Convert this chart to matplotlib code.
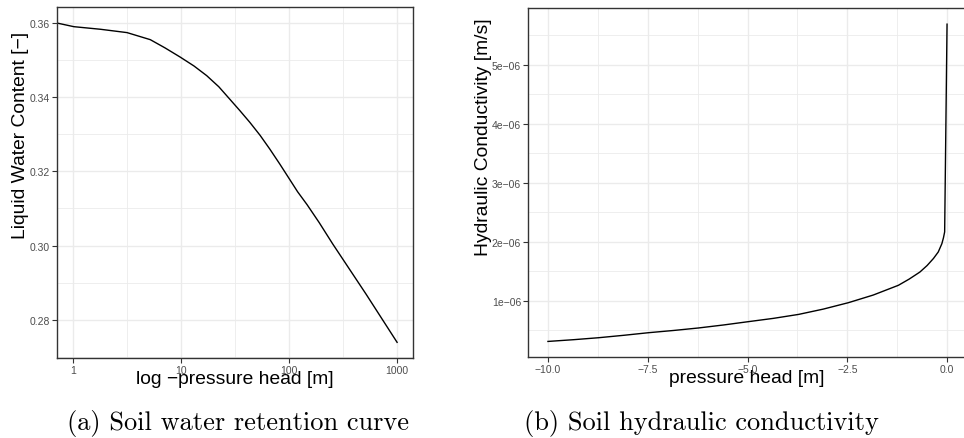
import numpy as np
import matplotlib
matplotlib.use("Agg")
import matplotlib.pyplot as plt
from matplotlib.ticker import FixedLocator, FixedFormatter

# (a) retention curve: -pressure head [m] vs liquid water content
heads = [1.02, 1.80, 3.17, 5.20, 7.1, 9.84, 13.2, 17.3, 22.4, 28.4, 35, 43.4, 54, 66.4,
         82, 101, 120, 147, 190, 254, 516, 1000]
theta = [0.3590, 0.3583, 0.3574, 0.3555, 0.3533, 0.3508, 0.3484, 0.3458, 0.3428, 0.3394,
         0.3364, 0.3332, 0.3297, 0.3260, 0.3220, 0.3179, 0.3145, 0.3110, 0.3062, 0.3004,
         0.2869, 0.2739]
theta_sat = 0.36          # value at zero head (drawn at the panel edge, like ggplot's -Inf)
a_xticks = [1, 10, 100, 1000]
a_xlabels = ["1", "10", "100", "1000"]
a_yticks = [0.28, 0.30, 0.32, 0.34, 0.36]
a_ylabels = ["0.28", "0.30", "0.32", "0.34", "0.36"]

# (b) hydraulic conductivity vs pressure head
psi = [-10.0, -9.35, -8.73, -8.1, -7.48, -6.85, -6.23, -5.6, -4.98, -4.35, -3.72, -3.1,
       -2.47, -1.85, -1.22, -0.95, -0.68, -0.5, -0.34, -0.22, -0.13, -0.09, -0.06, 0.0]
kond = [0.314e-6, 0.344e-6, 0.377e-6, 0.418e-6, 0.462e-6, 0.500e-6, 0.542e-6, 0.593e-6,
        0.649e-6, 0.705e-6, 0.772e-6, 0.862e-6, 0.971e-6, 1.10e-6, 1.265e-6, 1.37e-6,
        1.49e-6, 1.60e-6, 1.72e-6, 1.83e-6, 1.97e-6, 2.07e-6, 2.17e-6, 5.69e-6]
b_xticks = [-10.0, -7.5, -5.0, -2.5, 0.0]
b_xlabels = ["\u221210.0", "\u22127.5", "\u22125.0", "\u22122.5", "0.0"]
b_yticks = [1e-6, 2e-6, 3e-6, 4e-6, 5e-6]
b_ylabels = ["1e\u221206", "2e\u221206", "3e\u221206", "4e\u221206", "5e\u221206"]

plt.rcParams['font.family'] = ['Liberation Sans', 'DejaVu Sans']

W, H = 964, 439
fig = plt.figure(figsize=(W / 100, H / 100), dpi=100)


def px(x0, y0, x1, y1):
    """pixel box (left, top, right, bottom) -> figure fraction rect"""
    return [x0 / W, 1 - y1 / H, (x1 - x0) / W, (y1 - y0) / H]


def expand(lo, hi, f=0.05):
    r = hi - lo
    return lo - f * r, hi + f * r


def style(ax):
    ax.set_facecolor("white")
    for s in ax.spines.values():
        s.set_color("#333333")
        s.set_linewidth(1.0)
    ax.grid(True, which="major", color="#EBEBEB", lw=1.0)
    ax.grid(True, which="minor", color="#EBEBEB", lw=0.6)
    ax.set_axisbelow(True)
    ax.tick_params(which="major", length=3.5, width=0.8, color="#333333",
                   labelsize=7.5, labelcolor="#4D4D4D", pad=1.5)
    ax.tick_params(which="minor", length=0)


# ---- panel (a)
ax1 = fig.add_axes(px(56.7, 8, 413.3, 359.3))
ax1.set_xscale("log")
lx0, lx1 = expand(np.log10(min(a_xticks)), np.log10(max(heads)))
ax1.set_xlim(10 ** lx0, 10 ** lx1)
ax1.set_ylim(*expand(min(theta), theta_sat))
xmin = ax1.get_xlim()[0]
ax1.plot([xmin] + heads, [theta_sat] + theta, color="black", lw=1.0)
ax1.xaxis.set_major_locator(FixedLocator(a_xticks))
ax1.xaxis.set_major_formatter(FixedFormatter(a_xlabels))
ax1.xaxis.set_minor_locator(FixedLocator([10 ** 0.5, 10 ** 1.5, 10 ** 2.5]))
ax1.xaxis.set_minor_formatter(FixedFormatter([]))
ax1.yaxis.set_major_locator(FixedLocator(a_yticks))
ax1.yaxis.set_major_formatter(FixedFormatter(a_ylabels))
ax1.yaxis.set_minor_locator(FixedLocator([0.27, 0.29, 0.31, 0.33, 0.35]))
style(ax1)

# ---- panel (b)
ax2 = fig.add_axes(px(528, 9.3, 967, 358.3))
ax2.set_xlim(*expand(min(psi), max(psi)))
ax2.set_ylim(*expand(min(kond), max(kond)))
ax2.plot(psi, kond, color="black", lw=1.0)
ax2.xaxis.set_major_locator(FixedLocator(b_xticks))
ax2.xaxis.set_major_formatter(FixedFormatter(b_xlabels))
ax2.xaxis.set_minor_locator(FixedLocator([-8.75, -6.25, -3.75, -1.25]))
ax2.yaxis.set_major_locator(FixedLocator(b_yticks))
ax2.yaxis.set_major_formatter(FixedFormatter(b_ylabels))
ax2.yaxis.set_minor_locator(FixedLocator([0.5e-6, 1.5e-6, 2.5e-6, 3.5e-6, 4.5e-6, 5.5e-6]))
style(ax2)

# axis titles
fs = 13.9
fig.text(235 / W, 1 - 380 / H, "log \u2212pressure head [m]", fontsize=fs, ha="center", va="center")
fig.text(747 / W, 1 - 378.5 / H, "pressure head [m]", fontsize=fs, ha="center", va="center")
fig.text(21 / W, 1 - 135 / H, "Liquid Water Content [\u2212]", fontsize=fs, rotation=90,
         ha="center", va="center")
fig.text(484 / W, 1 - 137.5 / H, "Hydraulic Conductivity [m/s]", fontsize=fs, rotation=90,
         ha="center", va="center")

# subfigure captions
fig.text(238 / W, 1 - 424 / H, "(a) Soil water retention curve", family="cmr10",
         fontsize=19, ha="center", va="center")
fig.text(701.5 / W, 1 - 424 / H, "(b) Soil hydraulic conductivity", family="cmr10",
         fontsize=19, ha="center", va="center")

fig.savefig("out.png", dpi=100)
